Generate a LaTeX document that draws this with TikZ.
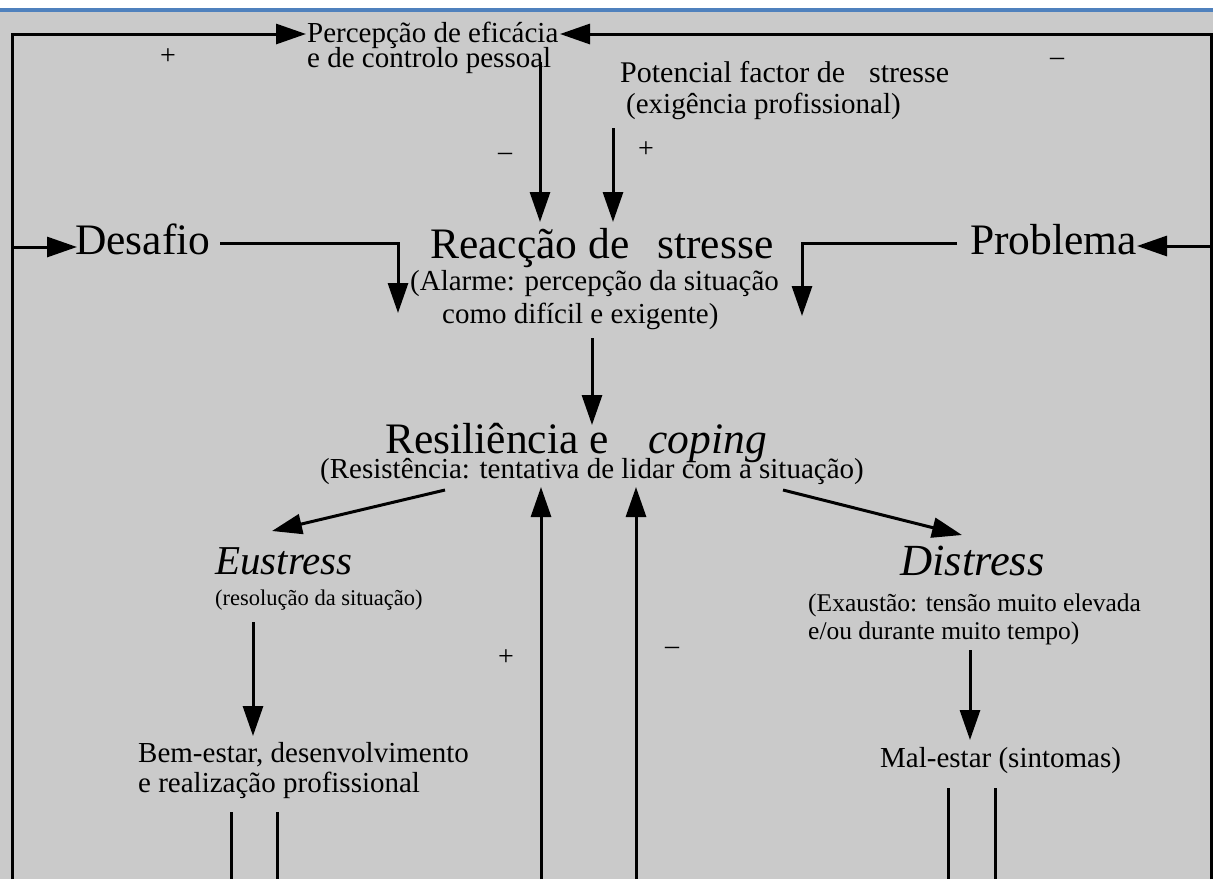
\documentclass[tikz,border=0pt]{standalone}
\usepackage{fontspec}
\setmainfont{Liberation Serif}
\usetikzlibrary{arrows.meta}
\definecolor{bggray}{RGB}{202,202,202}
\definecolor{topblue}{RGB}{79,129,189}
\newcommand\txtS{\fontsize{29}{29}\selectfont}
\newcommand\txtM{\fontsize{25.5}{25.5}\selectfont}
\newcommand\txtXS{\fontsize{22.5}{22.5}\selectfont}
\newcommand\txtL{\fontsize{43.5}{43.5}\selectfont}
\newcommand\txtT{\fontsize{28}{28}\selectfont}
\begin{document}
\begin{tikzpicture}[x=1pt,y=-1pt,
  lbl/.style={anchor=base west,inner sep=0pt,font=\txtS},
  big/.style={anchor=base west,inner sep=0pt,font=\txtL},
  sgn/.style={inner sep=0pt,font=\txtT},
  conn/.style={line width=3pt},
  arr/.style={line width=3pt,-{Triangle[length=30pt,width=20pt]}}]
\useasboundingbox (0,0) rectangle (1213,879);
\fill[white] (0,0) rectangle (1213,879);
\fill[bggray] (0,11) rectangle (1213,879);
\fill[topblue] (0,8) rectangle (1213,12);

% text nodes
\node[lbl] (p1) at (307,42) {Percepção de eficácia};
\node[lbl] (p2) at (307,67) {e de controlo pessoal};
\node[lbl,font=\fontsize{30}{30}\selectfont] (f1) at (620,82) {Potencial factor de\hspace{24pt}stresse};
\node[lbl] (f2) at (626,113) {(exigência profissional)};
\node[big] (r1) at (430,258) {Reacção de\hspace{28pt}stresse};
\node[lbl] (r2) at (410,290) {(Alarme: percepção da situação};
\node[lbl] (r3) at (442,323) {como difícil e exigente)};
\node[big] (des) at (75,254) {Desafio};
\node[big] (pro) at (970,254) {Problema};
\node[big] (c1) at (385,453) {Resiliência e\hspace{40pt}\textit{coping}};
\node[lbl] (c2) at (320,478) {(Resistência: tentativa de lidar com a situação)};
\node[anchor=base west,inner sep=0pt,font=\fontsize{41}{41}\selectfont] (eu) at (215,574) {\textit{Eustress}};
\node[lbl,font=\txtXS] (eu2) at (215,605) {(resolução da situação)};
\node[anchor=base west,inner sep=0pt,font=\fontsize{44.5}{44.5}\selectfont] (di) at (900,575) {\textit{Distress}};
\node[lbl,font=\txtM] (di2) at (808,611) {(Exaustão: tensão muito elevada};
\node[lbl,font=\txtM] (di3) at (808,639) {e/ou durante muito tempo)};
\node[lbl] (be1) at (138,762) {Bem-estar, desenvolvimento};
\node[lbl] (be2) at (138,792) {e realização profissional};
\node[lbl] (me) at (880,767) {Mal-estar (sintomas)};

% signs
\node[sgn] (s1) at (168,57) {+};
\node[sgn] (s2) at (1057,62) {--};
\node[sgn] (s3) at (505,157) {--};
\node[sgn] (s4) at (646,150) {+};
\node[sgn] (s5) at (506,658) {+};
\node[sgn] (s6) at (672,651) {--};

% coordinates
\coordinate (lb) at (12,879);
\coordinate (ltc) at (12,34);
\coordinate (pin) at (306,34);
\coordinate (rb) at (1211,879);
\coordinate (rtc) at (1211,34);
\coordinate (pin2) at (560,34);
\coordinate (ldes) at (12,247);
\coordinate (desin) at (77,247);
\coordinate (rpro) at (1211,246);
\coordinate (proin) at (1137,246);
\coordinate (pa) at (540,62);
\coordinate (pb) at (540,222);
\coordinate (fa) at (613,128);
\coordinate (fb) at (613,222);
\coordinate (da) at (220,243);
\coordinate (db) at (398,243);
\coordinate (dc) at (398,313);
\coordinate (qa) at (957,243);
\coordinate (qb) at (802,243);
\coordinate (qc) at (802,316);
\coordinate (ra) at (592,338);
\coordinate (rb2) at (592,425);
\coordinate (ea) at (445,490);
\coordinate (eb) at (272,531);
\coordinate (xa) at (783,490);
\coordinate (xb) at (962,535);
\coordinate (u1a) at (541,879);
\coordinate (u1b) at (541,487);
\coordinate (u2a) at (636,879);
\coordinate (u2b) at (636,487);
\coordinate (ba) at (253,622);
\coordinate (bb) at (253,736);
\coordinate (ma) at (970,650);
\coordinate (mb) at (970,740);
\coordinate (l1a) at (231,812); \coordinate (l1b) at (231,879);
\coordinate (l2a) at (277,812); \coordinate (l2b) at (277,879);
\coordinate (l3a) at (948,788); \coordinate (l3b) at (948,879);
\coordinate (l4a) at (995,788); \coordinate (l4b) at (995,879);

% connectors
\draw[arr] (lb) -- (ltc) -- (pin);
\draw[arr] (rb) -- (rtc) -- (pin2);
\draw[arr] (ldes) -- (desin);
\draw[arr] (rpro) -- (proin);
\draw[arr] (pa) -- (pb);
\draw[arr] (fa) -- (fb);
\draw[arr] (da) -- (db) -- (dc);
\draw[arr] (qa) -- (qb) -- (qc);
\draw[arr] (ra) -- (rb2);
\draw[arr] (ea) -- (eb);
\draw[arr] (xa) -- (xb);
\draw[arr] (u1a) -- (u1b);
\draw[arr] (u2a) -- (u2b);
\draw[arr] (ba) -- (bb);
\draw[arr] (ma) -- (mb);
\draw[conn] (l1a) -- (l1b);
\draw[conn] (l2a) -- (l2b);
\draw[conn] (l3a) -- (l3b);
\draw[conn] (l4a) -- (l4b);
\end{tikzpicture}
\end{document}
